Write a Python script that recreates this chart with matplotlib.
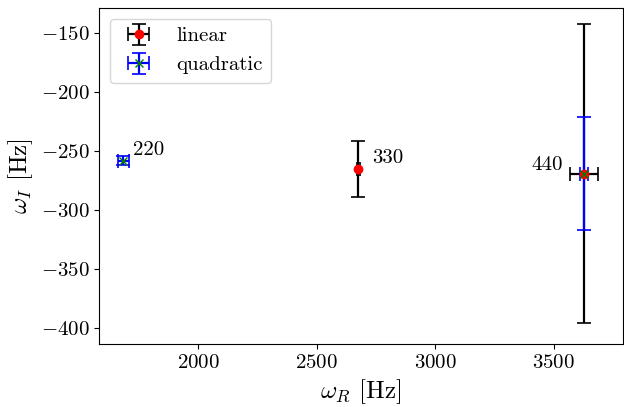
import numpy as np
import matplotlib.pyplot as plt

plt.rcParams['font.family'] = 'serif'
plt.rcParams['font.serif'] = ['cmr10']
plt.rcParams['mathtext.fontset'] = 'cm'
plt.rcParams['axes.formatter.use_mathtext'] = True

# linear fit results
lin_l = ['330', '440']
lin_wr = [2676, 3626]
lin_wi = [-265, -269]
lin_wr_err = [5, 60]
lin_wi_err = [24, 127]

# quadratic fit results
quad_l = ['220', '440']
quad_wr = [1686, 3626]
quad_wi = [-258, -269]
quad_wr_err = [22, 17]
quad_wi_err = [4, 48]

fig, ax = plt.subplots(figsize=(6.24, 4.07), dpi=100)
fig.subplots_adjust(left=0.159, right=0.998, top=0.980, bottom=0.155)

ax.errorbar(lin_wr, lin_wi, xerr=lin_wr_err, yerr=lin_wi_err, fmt='o', color='red',
            ecolor='black', elinewidth=1.6, capthick=1.2, capsize=5, markersize=6, label='linear')
ax.errorbar(quad_wr, quad_wi, xerr=quad_wr_err, yerr=quad_wi_err, fmt='x', color='green',
            ecolor='blue', elinewidth=1.6, capthick=1.2, capsize=5, markersize=6, label='quadratic')

ax.annotate('220', (quad_wr[0], quad_wi[0]), xytext=(7, 4), textcoords='offset points', fontsize=15)
ax.annotate('330', (lin_wr[0], lin_wi[0]), xytext=(10, 4), textcoords='offset points', fontsize=15)
ax.annotate('440', (lin_wr[1], lin_wi[1]), xytext=(-38, 3), textcoords='offset points', fontsize=15)

ax.set_xlim(1584, 3790)
ax.set_ylim(-413.5, -128.5)
ax.set_xticks([2000, 2500, 3000, 3500])
ax.tick_params(labelsize=15)
ax.set_xlabel(r'$\omega_R$ [Hz]', fontsize=18)
ax.set_ylabel(r'$\omega_I$ [Hz]', fontsize=18)
ax.legend(loc='upper left', fontsize=15)

plt.savefig('out.png')
